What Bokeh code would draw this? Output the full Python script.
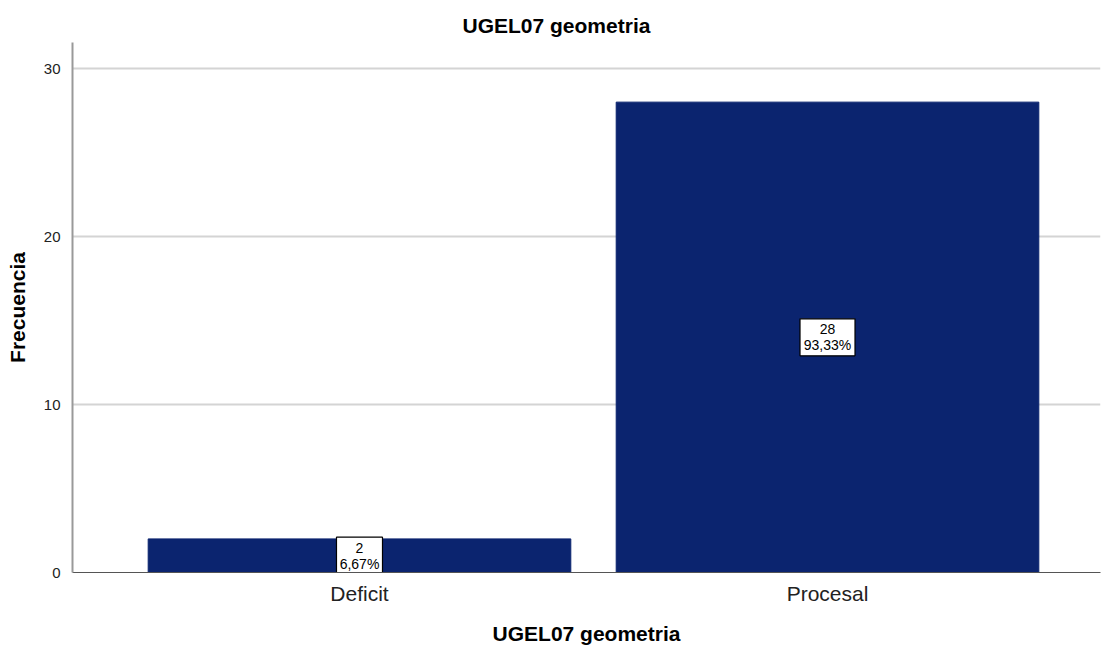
from bokeh.plotting import figure
from bokeh.models import ColumnDataSource, FixedTicker, Range1d
from bokeh.core.properties import value
from bokeh.embed import file_html
from bokeh.resources import INLINE

categories = ["Deficit", "Procesal"]
counts = [2, 28]
percents = ["6,67%", "93,33%"]
y_ticks = [0, 10, 20, 30]

FONT = "Liberation Sans"

xs = [i + 1 for i in range(len(categories))]
labels = [f"{c}\n{p}" for c, p in zip(counts, percents)]
# label box grows with the length of the percentage string
box_w = [9 * len(p) + 1 for p in percents]
src = ColumnDataSource(dict(x=xs, top=counts, mid=[c / 2 for c in counts],
                            label=labels, bw=box_w))

p = figure(width=1102, height=647, output_backend="svg", toolbar_location=None,
           x_range=Range1d(0.3868, 2.5833), y_range=Range1d(0, 31.55),
           min_border_left=72, min_border_right=2, min_border_top=42, min_border_bottom=75)
p.outline_line_color = None
p.background_fill_color = "white"
p.border_fill_color = "white"

p.title.text = "UGEL07 geometria"
p.title.align = "left"
p.title.offset = 390
p.title.text_font = FONT
p.title.text_font_size = "21px"
p.title.text_font_style = "bold"
p.title.text_color = "#000000"
p.title.standoff = 12

p.vbar(x="x", top="top", bottom=0, width=0.903, source=src,
       fill_color="#0b246f", line_color="#0b246f")

p.rect(x="x", y="mid", width="bw", height=37, width_units="screen", height_units="screen",
       source=src, fill_color="white", line_color="black", line_width=1.2)
p.text(x="x", y="mid", text="label", source=src, text_align="center",
       text_baseline="middle", text_font=value(FONT),
       text_font_size="14px", text_color="black", text_line_height=1.0)

# axes
p.xaxis.ticker = FixedTicker(ticks=xs)
p.xaxis.major_label_overrides = {x: c for x, c in zip(xs, categories)}
p.xaxis.major_tick_line_color = None
p.xaxis.minor_tick_line_color = None
p.xaxis.axis_line_color = "#555555"
p.xaxis.axis_line_width = 1
p.xaxis.major_label_text_font = FONT
p.xaxis.major_label_text_font_size = "21px"
p.xaxis.major_label_text_color = "#222222"
p.xaxis.major_label_standoff = 3
p.xaxis.axis_label = "UGEL07 geometria"
p.xaxis.axis_label_text_font = FONT
p.xaxis.axis_label_text_font_size = "21px"
p.xaxis.axis_label_text_font_style = "bold"
p.xaxis.axis_label_text_color = "#000000"
p.xaxis.axis_label_standoff = 14

p.yaxis.ticker = FixedTicker(ticks=y_ticks)
p.yaxis.major_tick_line_color = None
p.yaxis.minor_tick_line_color = None
p.yaxis.axis_line_color = "#999999"
p.yaxis.axis_line_width = 2
p.yaxis.major_label_text_font = FONT
p.yaxis.major_label_text_font_size = "15px"
p.yaxis.major_label_text_color = "#222222"
p.yaxis.major_label_standoff = 6
p.yaxis.axis_label = "Frecuencia"
p.yaxis.axis_label_text_font = FONT
p.yaxis.axis_label_text_font_size = "21px"
p.yaxis.axis_label_text_font_style = "bold"
p.yaxis.axis_label_text_color = "#000000"
p.yaxis.axis_label_standoff = 12

p.xgrid.grid_line_color = None
p.ygrid.grid_line_color = "#d4d4d4"
p.ygrid.grid_line_width = 2

open("out.html", "w").write(file_html(p, INLINE))
